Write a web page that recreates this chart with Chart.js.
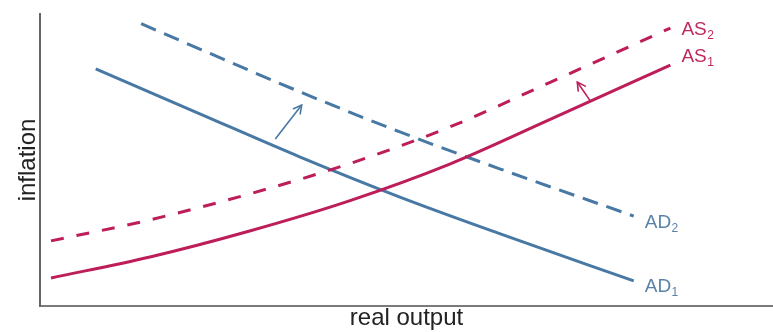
<!DOCTYPE html>
<html>
<head>
<meta charset="utf-8">
<script src="https://cdn.jsdelivr.net/npm/chart.js@4.4.1/dist/chart.umd.min.js"></script>
<style>
  html, body { margin: 0; padding: 0; background: #ffffff; }
  canvas { display: block; }
</style>
</head>
<body>
<canvas id="c" width="773" height="332"></canvas>
<script>
// ---- data (output and inflation in arbitrary 0-100 units) ----
const asOutput   = [1.5, 15, 28.6, 42.3, 55.9, 69.6, 86];
const as1Infl    = [9.6, 16.8, 25.7, 36.1, 48.6, 63.9, 82.5];
const as2Infl    = [22.3, 29.5, 38.4, 48.8, 61.3, 76.6, 95.2];
const ad1Output  = [7.6, 21.8, 35.5, 49.1, 62.8, 81.0];
const ad1Infl    = [81.2, 65.8, 51.0, 37.3, 24.7, 8.6];
const ad2Output  = [13.8, 21.8, 35.5, 49.1, 62.8, 81.0];
const ad2Infl    = [96.7, 88.0, 73.3, 59.6, 46.9, 30.8];
const adArrowOutput = [32.1, 35.7];
const adArrowInfl   = [57.2, 68.8];
const asArrowOutput = [75.0, 73.3];
const asArrowInfl   = [70.5, 76.7];
const curveLabels = ['AS', 'AS', 'AD', 'AD'];
const curveSubs   = ['1', '2', '1', '2'];
const xTitle = 'real output';
const yTitle = 'inflation';

const BLUE = '#4878a4';
const RED = '#bd1d59';
const BLUE_TXT = '#5a82a8';
const RED_TXT = '#c0285f';

const pts = (xs, ys) => xs.map((x, i) => ({x: x, y: ys[i]}));

Chart.defaults.font.family = "'Liberation Sans', Arial, Helvetica, sans-serif";

const labelOffsets = [
  {dx: 11, dy: -3},  // AS1
  {dx: 11, dy: 7},   // AS2
  {dx: 11, dy: 11},  // AD1
  {dx: 11, dy: 12}   // AD2
];

const curveLabelPlugin = {
  id: 'curveLabels',
  afterDatasetsDraw(chart) {
    const ctx = chart.ctx;
    ctx.save();
    for (let i = 0; i < 4; i++) {
      const meta = chart.getDatasetMeta(i);
      const last = meta.data[meta.data.length - 1];
      const off = labelOffsets[i];
      const x = last.x + off.dx, y = last.y + off.dy;
      ctx.fillStyle = i < 2 ? RED_TXT : BLUE_TXT;
      ctx.textBaseline = 'alphabetic';
      ctx.textAlign = 'left';
      ctx.font = "19px 'Liberation Sans', Arial, sans-serif";
      ctx.fillText(curveLabels[i], x, y);
      const w = ctx.measureText(curveLabels[i]).width;
      ctx.font = "12px 'Liberation Sans', Arial, sans-serif";
      ctx.fillText(curveSubs[i], x + w + 0.5, y + 4);
    }
    ctx.restore();
  }
};

const arrowHeadPlugin = {
  id: 'arrowHeads',
  afterDatasetsDraw(chart) {
    const ctx = chart.ctx;
    ctx.save();
    [4, 5].forEach(i => {
      const meta = chart.getDatasetMeta(i);
      const a = meta.data[0], b = meta.data[1];
      const ang = Math.atan2(b.y - a.y, b.x - a.x);
      const len = 9, spread = 0.5;
      ctx.strokeStyle = chart.data.datasets[i].borderColor;
      ctx.lineWidth = 1.6;
      ctx.lineCap = 'round';
      ctx.beginPath();
      ctx.moveTo(b.x - len * Math.cos(ang - spread), b.y - len * Math.sin(ang - spread));
      ctx.lineTo(b.x, b.y);
      ctx.lineTo(b.x - len * Math.cos(ang + spread), b.y - len * Math.sin(ang + spread));
      ctx.stroke();
    });
    ctx.restore();
  }
};

const lineBase = {showLine: true, pointRadius: 0, pointHoverRadius: 0, pointBorderWidth: 0, borderCapStyle: 'butt'};

new Chart(document.getElementById('c'), {
  type: 'scatter',
  data: {
    datasets: [
      Object.assign({data: pts(asOutput, as1Infl), borderColor: RED, borderWidth: 3, cubicInterpolationMode: 'monotone'}, lineBase),
      Object.assign({data: pts(asOutput, as2Infl), borderColor: RED, borderWidth: 3, cubicInterpolationMode: 'monotone', borderDash: [13, 13]}, lineBase),
      Object.assign({data: pts(ad1Output, ad1Infl), borderColor: BLUE, borderWidth: 3, cubicInterpolationMode: 'monotone'}, lineBase),
      Object.assign({data: pts(ad2Output, ad2Infl), borderColor: BLUE, borderWidth: 3, cubicInterpolationMode: 'monotone', borderDash: [16, 9]}, lineBase),
      Object.assign({data: pts(adArrowOutput, adArrowInfl), borderColor: BLUE, borderWidth: 1.6}, lineBase),
      Object.assign({data: pts(asArrowOutput, asArrowInfl), borderColor: RED, borderWidth: 1.6}, lineBase)
    ]
  },
  options: {
    responsive: false,
    animation: false,
    events: [],
    layout: {autoPadding: false, padding: {top: 14, right: 0, left: 0, bottom: 0}},
    plugins: {legend: {display: false}, tooltip: {enabled: false}},
    scales: {
      x: {
        type: 'linear', min: 0, max: 100,
        grid: {display: false, drawTicks: false, tickLength: 0},
        ticks: {display: false, padding: 0},
        border: {display: true, color: '#7a7a7a', width: 2},
        title: {display: true, text: xTitle, color: '#222222',
                font: {size: 24, lineHeight: 1}, padding: {top: 0.5, bottom: 1.5}}
      },
      y: {
        type: 'linear', min: 0, max: 100,
        grid: {display: false, drawTicks: false, tickLength: 0},
        ticks: {display: false, padding: 0},
        border: {display: true, color: '#666666', width: 2},
        title: {display: true, text: yTitle, color: '#222222',
                font: {size: 24, lineHeight: 1}, padding: {top: 16, bottom: 0}}
      }
    }
  },
  plugins: [curveLabelPlugin, arrowHeadPlugin]
});
</script>
</body>
</html>
